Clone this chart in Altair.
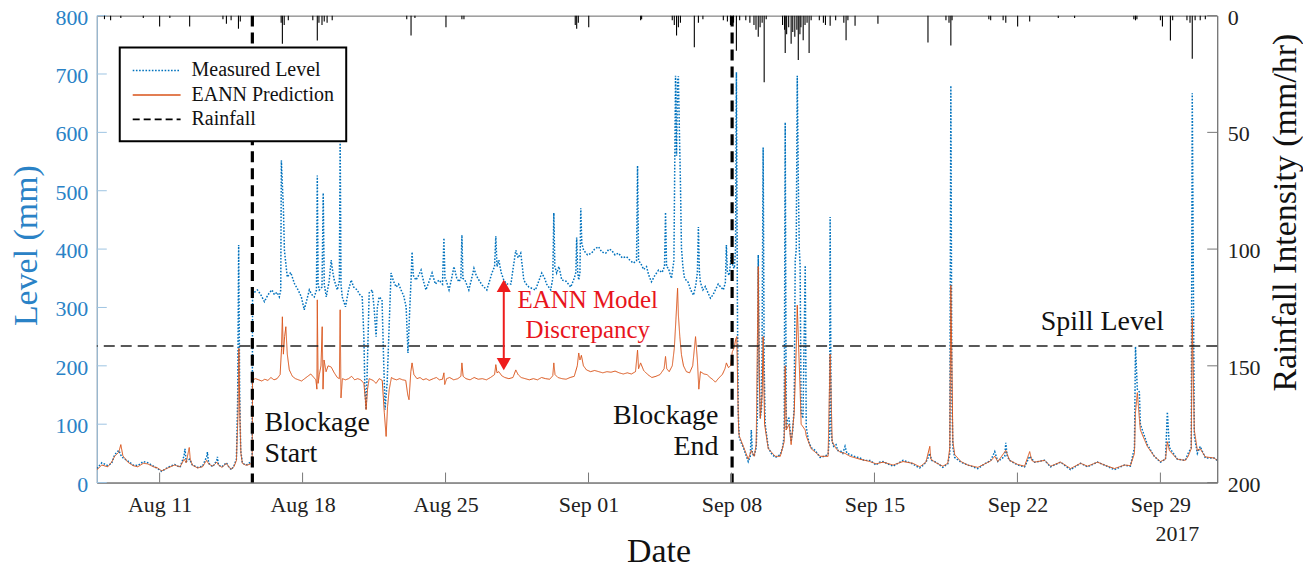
import altair as alt
import pandas as pd

START = pd.Timestamp("2017-08-07 00:00:00")
SERIF = "Liberation Serif, Times New Roman, serif"

# ---- data (time = days since 2017-08-07 00:00) ----
meas_t = [0.93, 1.17, 1.46, 1.65, 1.80, 2.0, 2.14, 2.3, 2.44, 2.7, 2.93, 3.2, 3.41, 3.7, 3.9, 4.10, 4.4, 4.73,
          5.0, 5.2, 5.24, 5.3, 5.47, 5.6, 5.86, 6.1, 6.3, 6.34, 6.4, 6.6, 6.8, 6.83, 6.88, 7.05, 7.27, 7.4, 7.52,
          7.65, 7.76, 7.82, 7.87, 7.92, 7.97, 8.05, 8.2, 8.30, 8.45, 8.53,
          8.55, 8.60, 8.79, 8.95, 9.13, 9.25, 9.37, 9.50, 9.62, 9.75, 9.86, 9.93, 9.96, 10.01, 10.06, 10.11, 10.25,
          10.42, 10.6, 10.78, 10.94, 11.08, 11.2, 11.33, 11.45, 11.57, 11.68, 11.72, 11.76, 11.82, 11.95, 12.01,
          12.06, 12.16, 12.30, 12.40, 12.48, 12.55, 12.70, 12.80, 12.84, 12.88, 12.94, 13.10, 13.25, 13.38, 13.50,
          13.67, 13.80, 13.92, 14.00, 14.05, 14.11, 14.17, 14.26, 14.41, 14.50, 14.60, 14.66, 14.75, 14.89, 14.96,
          15.04, 15.09, 15.14, 15.22, 15.33, 15.45, 15.58, 15.70, 15.82, 15.95, 16.07, 16.16, 16.25, 16.31, 16.36,
          16.42, 16.55, 16.68, 16.80, 16.92, 17.04, 17.20, 17.34, 17.50, 17.68, 17.85, 17.92, 17.97, 18.02, 18.17,
          18.30, 18.41, 18.55, 18.66, 18.75, 18.80, 18.85, 18.95, 19.14, 19.28, 19.39, 19.50, 19.63, 19.80, 20.02,
          20.15, 20.27, 20.40, 20.46, 20.52, 20.61, 20.72, 20.85, 21.0, 21.20, 21.32, 21.44, 21.55, 21.68, 21.76,
          21.83, 21.95, 22.08, 22.40, 22.71, 22.85, 22.95, 23.15, 23.25, 23.30, 23.35, 23.44, 23.55, 23.69, 23.90,
          24.13, 24.30, 24.38, 24.42, 24.47, 24.52, 24.58, 24.62, 24.67, 24.76, 24.95, 25.15, 25.30, 25.49, 25.65,
          25.84, 26.0, 26.13, 26.30, 26.47, 26.65, 26.86, 27.05, 27.20, 27.35, 27.40, 27.45, 27.55, 27.70, 27.84,
          27.95, 28.08, 28.25, 28.43, 28.60, 28.72, 28.77, 28.82, 28.91, 29.06, 29.18, 29.26, 29.31, 29.36, 29.40,
          29.45, 29.50, 29.55, 29.62, 29.70, 29.88, 30.0, 30.14, 30.26, 30.33, 30.38, 30.43, 30.48, 30.60, 30.72,
          30.85, 30.97, 31.10, 31.21, 31.35, 31.45, 31.60, 31.70, 31.75, 31.80, 31.89, 31.99, 32.07, 32.14, 32.20,
          32.24, 32.29, 32.33,
          32.38, 32.50, 32.58, 32.70, 32.82, 32.92, 32.97, 33.02, 33.11, 33.21, 33.27, 33.31, 33.36, 33.41, 33.48,
          33.55, 33.60, 33.65, 33.80, 33.95, 34.14, 34.25, 34.39, 34.50, 34.58, 34.63, 34.68, 34.75, 34.82, 34.92,
          35.0, 35.07, 35.12, 35.17, 35.22, 35.27, 35.32, 35.36, 35.41, 35.50, 35.61, 35.66, 35.78, 35.90, 36.10,
          36.34, 36.55, 36.73, 36.80, 36.83, 36.88, 36.93, 37.0, 37.12, 37.20, 37.32, 37.45, 37.56, 37.65, 37.80,
          38.0, 38.29, 38.50, 38.78, 39.08, 39.25, 39.42, 39.65, 39.91, 40.15, 40.40, 40.65, 40.88, 41.05, 41.22,
          41.40, 41.52, 41.62, 41.71, 41.80, 42.01, 42.20, 42.35, 42.50, 42.59, 42.69, 42.74, 42.79, 42.84, 42.93,
          43.23, 43.57, 44.06, 44.40, 44.69, 44.89, 45.04, 45.38, 45.43, 45.50, 45.62, 46.01, 46.35, 46.60, 46.84,
          47.33, 47.62, 48.11, 48.60, 49.09, 49.43, 49.92, 50.26, 50.75, 51.24, 51.53, 51.73, 51.78, 51.87, 51.97,
          52.02, 52.36, 52.70, 53.00, 53.25, 53.34, 53.44, 53.83, 54.22, 54.36, 54.51, 54.56, 54.66, 54.81, 54.95,
          55.20, 55.63, 55.78]
meas_v = [24, 34, 29, 33, 48, 55, 44, 40, 37, 30, 29, 36, 34, 28, 24, 19, 26, 31,
          26, 46, 58, 36, 40, 30, 26, 28, 44, 52, 33, 27, 38, 44, 30, 27, 34, 26, 22,
          30, 40, 140, 407, 150, 55, 34, 30, 31, 35, 33,
          318, 325, 330, 322, 310, 318, 325, 330, 322, 326, 318, 330, 552, 510, 470, 398, 352,
          360, 341, 330, 318, 296, 312, 330, 322, 318, 330, 526, 340, 330, 335, 496,
          340, 318, 345, 381, 360, 347, 330, 345, 590, 340, 318, 301, 330, 347, 335,
          330, 322, 318, 250, 160, 125, 200, 325, 330, 300, 250, 300, 318, 313, 220,
          125, 150, 171, 250, 359, 345, 335, 340, 330, 320, 301, 222, 300, 347, 395,
          355, 347, 355, 364, 345, 330, 345, 359, 340, 347, 340, 419, 350, 347, 330,
          350, 370, 350, 344, 350, 424, 350, 347, 330, 350, 367, 355, 347, 338, 330,
          345, 359, 370, 422, 370, 381, 360, 347, 340, 340, 370, 398, 385, 393, 370,
          347, 340, 335, 330, 359, 350, 340, 330, 350, 462, 370, 359, 370, 347, 345,
          335, 350, 360, 420, 360, 347, 360, 470, 410, 398, 390, 393, 400, 404, 395,
          393, 400, 398, 390, 393, 385, 387, 380, 376, 380, 543, 380, 376, 365, 370,
          355, 344, 355, 364, 360, 370, 463, 370, 367, 350, 380, 697, 560, 690, 696,
          600, 514, 402, 370, 350, 343, 330, 321, 340, 360, 438, 360, 343, 330, 336,
          325, 316, 322, 330, 340, 336, 330, 343, 407, 360, 355, 390, 370, 367, 400,
          703, 300, 120,
          77, 66, 60, 48, 36, 45, 90, 50, 45, 60, 120, 390, 200, 110, 130,
          574, 200, 100, 60, 50, 43, 45, 48, 60, 80, 617, 90, 110, 110, 70,
          90, 130, 380, 400, 697, 520, 400, 372, 120, 110, 372, 95, 70, 60, 55,
          43, 45, 48, 80, 455, 90, 70, 62, 65, 55, 55, 50, 62, 50, 48,
          45, 42, 38, 38, 30, 35, 36, 32, 28, 33, 38, 35, 32, 28, 25,
          30, 35, 42, 50, 38, 35, 30, 26, 30, 32, 50, 680, 150, 60, 43,
          35, 30, 24, 32, 38, 53, 36, 45, 68, 45, 38, 30, 27, 45, 35,
          38, 27, 35, 22, 33, 27, 35, 30, 22, 30, 28, 60, 233, 160, 155,
          100, 65, 45, 35, 40, 121, 60, 40, 38, 50, 60, 667, 80, 50, 62,
          42, 42, 38]

pred_t = [0.93, 1.17, 1.46, 1.65, 1.80, 2.0, 2.1, 2.2, 2.44, 2.7, 2.93, 3.2, 3.41, 3.7, 3.9, 4.10, 4.4, 4.73,
          5.0, 5.2, 5.3, 5.45, 5.5, 5.6, 5.86, 6.1, 6.3, 6.4, 6.6, 6.8, 6.88, 7.05, 7.27, 7.4, 7.52, 7.65, 7.76,
          7.84, 7.88, 7.93, 7.98, 8.05, 8.2, 8.30, 8.45, 8.53,
          8.55, 8.70, 8.85, 9.0, 9.15, 9.30, 9.45, 9.60, 9.75, 9.90, 9.97, 10.01, 10.06, 10.12, 10.18, 10.25, 10.35,
          10.50, 10.65, 10.80, 10.95, 11.10, 11.25, 11.40, 11.55, 11.65, 11.70, 11.72, 11.76, 11.82, 11.90, 11.96,
          12.00, 12.05, 12.15, 12.25, 12.40, 12.55, 12.70, 12.80, 12.84, 12.88, 12.95, 13.10, 13.25, 13.40, 13.55,
          13.70, 13.85, 14.0, 14.08, 14.11, 14.18, 14.26, 14.45, 14.60, 14.75, 14.90, 15.0, 15.09, 15.16, 15.24,
          15.35, 15.43, 15.60, 15.75, 15.90, 16.05, 16.15, 16.21, 16.30, 16.36, 16.45, 16.60, 16.75, 16.90, 17.05,
          17.20, 17.40, 17.55, 17.70, 17.85, 17.92, 17.96, 18.05, 18.20, 18.40, 18.60, 18.75, 18.80, 18.86, 19.0,
          19.20, 19.40, 19.60, 19.80, 20.0, 20.20, 20.40, 20.46, 20.52, 20.61, 20.75, 20.90, 21.10, 21.30, 21.44,
          21.55, 21.70, 21.90, 22.10, 22.30, 22.50, 22.70, 22.90, 23.10, 23.25, 23.30, 23.36, 23.50, 23.70, 23.90,
          24.10, 24.30, 24.45, 24.52, 24.58, 24.65, 24.75, 24.90, 25.10, 25.30, 25.50, 25.70, 25.90, 26.10, 26.30,
          26.50, 26.70, 26.90, 27.10, 27.30, 27.40, 27.45, 27.55, 27.70, 27.90, 28.10, 28.30, 28.50, 28.70, 28.77,
          28.83, 28.95, 29.10, 29.20, 29.28, 29.36, 29.40, 29.47, 29.55, 29.65, 29.79, 29.95, 30.10, 30.24, 30.33,
          30.40, 30.48, 30.65, 30.80, 30.95, 31.10, 31.21, 31.40, 31.55, 31.68, 31.75, 31.85, 31.95, 32.04, 32.14,
          32.20, 32.26, 32.31, 32.35,
          32.38, 32.58, 32.82, 32.97, 33.11, 33.21, 33.31, 33.36, 33.41, 33.50, 33.55, 33.62, 33.80, 34.14, 34.39,
          34.58, 34.63, 34.68, 34.82, 34.92, 35.07, 35.17, 35.22, 35.27, 35.36, 35.41, 35.61, 35.66, 35.90, 36.34,
          36.73, 36.83, 36.93, 37.12, 37.32, 37.56, 37.80, 38.29, 38.78, 39.08, 39.42, 39.91, 40.40, 40.88, 41.22,
          41.52, 41.71, 41.76, 42.01, 42.35, 42.59, 42.69, 42.74, 42.84, 42.93, 43.23, 43.57, 44.06, 44.40, 44.69,
          44.89, 45.04, 45.43, 45.62, 46.01, 46.35, 46.60, 46.70, 46.84, 47.33, 47.62, 48.11, 48.60, 49.09, 49.43,
          49.92, 50.26, 50.75, 51.24, 51.53, 51.73, 51.78, 51.87, 51.97, 52.02, 52.36, 52.70, 53.00, 53.25, 53.34,
          53.44, 53.83, 54.22, 54.36, 54.51, 54.56, 54.66, 54.81, 54.95, 55.20, 55.63, 55.78]
pred_v = [22, 30, 27, 35, 45, 52, 65, 46, 35, 29, 27, 33, 32, 27, 25, 20, 25, 30,
          27, 40, 34, 60, 40, 30, 25, 27, 38, 32, 28, 35, 30, 26, 33, 26, 23, 28, 38,
          120, 230, 110, 50, 33, 30, 30, 32, 31,
          176, 178, 176, 174, 177, 175, 180, 176, 178, 185, 230, 284, 220, 250, 267, 220, 193,
          182, 178, 176, 174, 178, 182, 186, 180, 176, 160, 313, 170, 185, 200, 267,
          160, 210, 190, 200, 198, 188, 180, 178, 296, 145, 178, 176, 178, 182, 176,
          178, 176, 170, 140, 125, 160, 178, 175, 170, 178, 175, 120, 79, 130, 159,
          180, 178, 176, 178, 176, 175, 150, 142, 190, 205, 185, 178, 180, 176, 178,
          175, 178, 180, 176, 177, 188, 168, 178, 180, 176, 178, 182, 205, 182, 178,
          176, 180, 177, 178, 176, 180, 185, 202, 188, 190, 183, 180, 178, 180, 193,
          185, 180, 178, 176, 178, 176, 180, 178, 177, 183, 205, 185, 180, 178, 177,
          180, 182, 200, 222, 210, 218, 200, 193, 190, 192, 190, 188, 190, 189, 191,
          188, 186, 188, 186, 190, 227, 195, 205, 192, 185, 180, 182, 185, 195, 216,
          195, 190, 200, 230, 280, 333, 287, 250, 219, 200, 190, 188, 200, 250, 210,
          160, 190, 186, 185, 180, 176, 172, 180, 185, 195, 205, 197, 200, 224, 232,
          245, 250, 150, 90,
          80, 62, 40, 55, 45, 65, 370, 180, 110, 150, 250, 100, 58, 45, 45,
          70, 200, 90, 100, 65, 120, 230, 304, 250, 160, 100, 90, 80, 58, 45,
          45, 220, 70, 58, 52, 50, 45, 40, 36, 32, 35, 30, 36, 33, 27,
          35, 62, 40, 34, 28, 33, 60, 338, 70, 48, 36, 30, 26, 32, 37,
          45, 36, 55, 38, 31, 28, 53, 38, 35, 38, 28, 35, 24, 33, 28,
          35, 30, 24, 30, 29, 50, 120, 154, 110, 90, 62, 45, 36, 40, 70,
          55, 40, 38, 45, 58, 282, 90, 55, 58, 44, 42, 38]

rain_t = [1.3, 1.6, 2.1, 3.2, 4.0, 4.5, 5.47, 7.1, 7.27, 7.5, 7.86, 7.95, 9.95, 10.01, 10.1, 10.3, 11.5, 11.72,
          11.8, 11.95, 12.06, 12.2, 12.45, 16.1, 16.31, 16.5, 18.02, 18.80, 18.9, 24.35, 24.42, 24.5, 25.01,
          27.55, 27.6, 29.1, 29.2, 29.31, 29.4, 29.5, 30.18, 30.38, 30.6, 31.6, 31.8, 31.95, 32.1, 32.24, 32.4,
          32.7, 32.9, 33.1, 33.2, 33.31, 33.4, 33.5, 33.60, 33.7, 34.5, 34.6, 34.63, 34.7, 34.8, 34.92, 35.0,
          35.1, 35.2, 35.27, 35.35, 35.4, 35.51, 35.6, 35.7, 35.80, 35.9, 36.3, 36.5, 36.6, 36.83, 37.1, 37.5,
          37.61, 37.7, 38.05, 39.17, 41.62, 42.5, 42.65, 42.74, 42.8, 44.6, 44.69, 45.3, 45.43, 46.01, 46.60,
          48.0, 48.80, 51.7, 51.78, 51.85, 53.0, 53.10, 53.49, 53.6, 54.3, 54.45, 54.56, 54.7, 54.95, 55.2]
rain_v = [1.5, 2, 1, 1, 4.7, 1, 4.7, 1.5, 3.5, 2, 5.6, 2.5, 3, 12, 4, 2, 2, 10.7,
          3, 4, 2.5, 3, 2, 1.5, 8.5, 1, 5, 1.5, 1.5, 4, 5.6, 3, 5,
          2, 1.5, 2, 4, 8.5, 5, 3, 13.5, 3, 1.5, 2, 2.5, 4, 3, 15, 2,
          2, 3, 4, 6, 9, 5, 3, 28.5, 1.5, 4, 6, 16, 8, 5, 12, 7,
          9, 6, 19, 8, 5, 10.5, 4, 3, 16, 2, 2, 3, 4, 4.3, 2, 3,
          10.5, 2, 4.3, 3.5, 11.5, 2, 3, 12.8, 2, 1.5, 2, 2, 3, 4.7, 2.5,
          1, 1, 1.5, 2, 1.5, 2, 4.7, 10.7, 2, 2, 3, 18.5, 2, 2, 1.5]

series_names = ["Measured Level", "EANN Prediction", "Rainfall"]
series_colors = ["#0072BD", "#D95319", "#000000"]
series_dashes = [[1.6, 1.6], [1, 0], [7, 4]]

x_tick_days = [11, 18, 25, 32, 39, 46, 53, 60]  # day count from Aug 0 -> Aug 11 ... Sep 29
level_ticks = [0, 100, 200, 300, 400, 500, 600, 700, 800]
rain_ticks = [0, 50, 100, 150, 200]
spill_level = [234]
blockage_t = [8.54, 32.03]

notes_t = [9.13, 31.36, 47.14, 24.96]
notes_level = [89, 101, 261, 299]
notes_text = ["Blockage\nStart", "Blockage\nEnd", "Spill Level", "EANN Model\nDiscrepancy"]
arrow_t = [20.85]
arrow_span = [200, 340]
arrow_heads = [337, 203]


def to_iso(days):
    return [(START + pd.Timedelta(days=d)).strftime("%Y-%m-%dT%H:%M:%S") for d in days]


meas_df = pd.DataFrame({"date": to_iso(meas_t), "level": meas_v, "series": "Measured Level"})
pred_df = pd.DataFrame({"date": to_iso(pred_t), "level": pred_v, "series": "EANN Prediction"})
rain_df = pd.DataFrame({"date": to_iso(rain_t), "rain": rain_v, "series": "Rainfall"})
tick_dates = [(pd.Timestamp("2017-08-01") + pd.Timedelta(days=d - 1)).strftime("%Y-%m-%dT%H:%M:%S") for d in x_tick_days]
xtick_df = pd.DataFrame({"date": tick_dates})
ltick_df = pd.DataFrame({"level": level_ticks})
rtick_df = pd.DataFrame({"rain": rain_ticks})
spill_df = pd.DataFrame({"level": spill_level})
block_df = pd.DataFrame({"date": to_iso(blockage_t)})
notes_df = pd.DataFrame({"date": to_iso(notes_t), "level": notes_level, "text": notes_text})
arrow_df = pd.DataFrame({"date": to_iso(arrow_t), "level": [arrow_span[0]], "level2": [arrow_span[1]]})
head_df = pd.DataFrame({"date": to_iso(arrow_t * 2), "level": arrow_heads,
                        "shape": ["triangle-up", "triangle-down"]})

W, H = 1123, 468
BLUE_TXT = "#2a82c6"

x_domain = [alt.DateTime(year=2017, month=8, date=7, hours=22, minutes=10),
            alt.DateTime(year=2017, month=10, date=1, hours=18, minutes=45)]
x_values = [alt.DateTime(year=2017, month=8 if d <= 31 else 9, date=d if d <= 31 else d - 31) for d in x_tick_days]

YEAR_LINE = "\u200b" + "\u00a0" * 6 + "2017"
x_axis = alt.Axis(values=x_values, format="%b %d", ticks=False, grid=False, domainColor="#777777",
                  labelFont=SERIF, labelFontSize=22, labelColor="#222222", labelPadding=12,
                  labelLineHeight=29, labelOverlap=False,
                  labelExpr="timeFormat(datum.value, '%b %d') == 'Sep 29' ? ['Sep 29', '" + YEAR_LINE + "'] : timeFormat(datum.value, '%b %d')",
                  title="Date", titleFont=SERIF, titleFontSize=34, titleFontWeight="normal",
                  titleColor="#111111", titleX=563, titleY=79, titleBaseline="alphabetic")
X = alt.X("date:T", scale=alt.Scale(domain=x_domain), axis=x_axis)

y_axis = alt.Axis(orient="left", values=level_ticks, ticks=False, grid=False, domainColor="#9ec4e2",
                  labelFont=SERIF, labelFontSize=22, labelColor=BLUE_TXT, labelPadding=9, labelOffset=1.5,
                  title="Level (mm)", titleFont=SERIF, titleFontSize=34, titleFontWeight="normal",
                  titleColor=BLUE_TXT, titleAngle=270, titleX=-60, titleY=230,
                  titleBaseline="alphabetic", titleAlign="center")
Y = alt.Y("level:Q", scale=alt.Scale(domain=[0, 800], nice=False), axis=y_axis)

r_axis = alt.Axis(orient="right", values=rain_ticks, ticks=False, grid=False, domainColor="#777777",
                  labelFont=SERIF, labelFontSize=22, labelColor="#222222", labelPadding=10, labelOffset=1.5,
                  title="Rainfall Intensity (mm/hr)", titleFont=SERIF, titleFontSize=34,
                  titleFontWeight="normal", titleColor="#111111", titleAngle=270, titleX=78, titleY=197,
                  titleBaseline="alphabetic", titleAlign="center")
R = alt.Y("rain:Q", scale=alt.Scale(domain=[0, 200], reverse=True, nice=False), axis=r_axis)

# legend: horizontal stroke symbol, 48 px long, sized on a 20 px square
legend = alt.Legend(title=None, orient="none", legendX=23, legendY=32, direction="vertical",
                    symbolType="M-1,0H3.8", symbolSize=400, symbolStrokeWidth=1.6,
                    labelFont=SERIF, labelFontSize=20, labelColor="#111111", labelOffset=38,
                    padding=12, rowPadding=3.5, strokeColor="#000000", fillColor="#ffffff")
C = alt.Color("series:N", scale=alt.Scale(domain=series_names, range=series_colors), legend=legend)
D = alt.StrokeDash("series:N", scale=alt.Scale(domain=series_names, range=series_dashes), legend=legend)

blue = alt.Chart(meas_df).mark_line(strokeWidth=1.5, clip=True).encode(x=X, y=Y, color=C, strokeDash=D)
orange = alt.Chart(pred_df).mark_line(strokeWidth=1.0, clip=True).encode(x=X, y=Y, color=C, strokeDash=D)
spill = alt.Chart(spill_df).mark_rule(color="#222222", strokeWidth=1.4, strokeDash=[11, 6]).encode(y=Y)
block = alt.Chart(block_df).mark_rule(color="#000000", strokeWidth=3.2, strokeDash=[11, 6]).encode(x=X)
lticks = alt.Chart(ltick_df).mark_rule(color="#9ec4e2", strokeWidth=1).encode(
    y=Y, x=alt.value(0), x2=alt.value(10))
bticks = alt.Chart(xtick_df).mark_rule(color="#777777", strokeWidth=1).encode(
    x=X, y=alt.value(H), y2=alt.value(H - 10))

notes_common = dict(font=SERIF, fontSize=28, baseline="alphabetic", lineBreak="\n", lineHeight=31)
n1 = alt.Chart(notes_df.iloc[[0]]).mark_text(align="left", color="#111111", **notes_common).encode(
    x=X, y=Y, text="text:N")
n2 = alt.Chart(notes_df.iloc[[1]]).mark_text(align="right", color="#111111", **notes_common).encode(
    x=X, y=Y, text="text:N")
n3 = alt.Chart(notes_df.iloc[[2]]).mark_text(align="left", color="#111111", **notes_common).encode(
    x=X, y=Y, text="text:N")
n4 = alt.Chart(notes_df.iloc[[3]]).mark_text(align="center", color="#e8141c", font=SERIF, fontSize=25,
                                             baseline="alphabetic", lineBreak="\n", lineHeight=30).encode(
    x=X, y=Y, text="text:N")
arrow_line = alt.Chart(arrow_df).mark_rule(color="#ee1c1c", strokeWidth=2).encode(
    x=X, y=Y, y2="level2:Q")
heads = alt.Chart(head_df).mark_point(filled=True, color="#ee1c1c", size=200, opacity=1).encode(
    x=X, y=Y, shape=alt.Shape("shape:N", scale=None, legend=None))

left = alt.layer(blue, orange, spill, block, lticks, bticks, n1, n2, n3, n4, arrow_line, heads)

rain = alt.Chart(rain_df).mark_rule(strokeWidth=1.1).encode(x=X, y=R, y2=alt.datum(0), color=C)
rticks = alt.Chart(rtick_df).mark_rule(color="#777777", strokeWidth=1).encode(
    y=R, x=alt.value(W - 10), x2=alt.value(W))
right = alt.layer(rain, rticks)

chart = alt.layer(left, right).resolve_scale(y="independent").properties(
    width=W, height=H,
    autosize=alt.AutoSizeParams(type="none"),
    padding={"left": 89, "top": 7, "right": 86, "bottom": 88},
    background="white",
).configure_view(stroke="#666666", strokeWidth=1).configure_legend(strokeWidth=2)

chart.save("out.html", embed_options={"renderer": "svg", "actions": False})
